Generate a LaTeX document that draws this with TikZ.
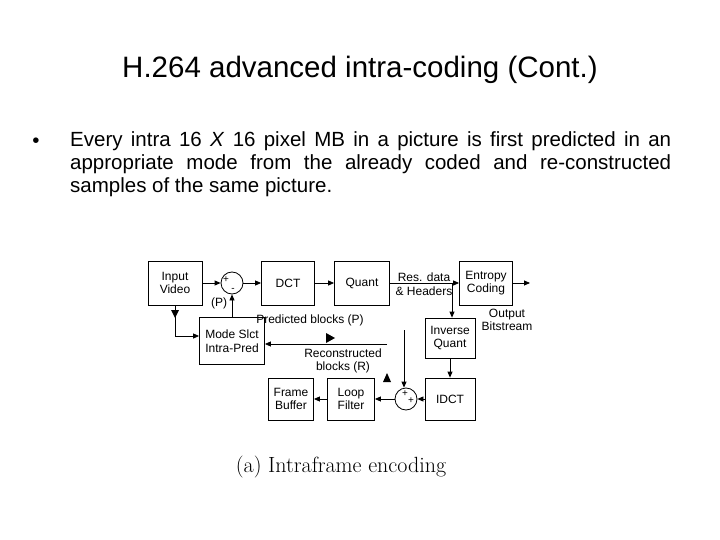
\documentclass[tikz,border=0pt]{standalone}
\usepackage{fontspec}
\setmainfont{Liberation Sans}
\newfontfamily\cmfont{Latin Modern Roman}
\usetikzlibrary{arrows.meta}
\begin{document}
\begin{tikzpicture}[x=1pt,y=-1pt,
  blk/.style={draw,line width=0.8pt,inner sep=0pt,font=\fontsize{12}{13.5}\selectfont,align=center},
  lbl/.style={font=\fontsize{12}{13.5}\selectfont,align=center,inner sep=0pt},
  sumc/.style={draw,circle,line width=0.8pt,minimum size=22pt,inner sep=0pt},
  ar/.style={line width=0.8pt,-{Triangle[length=6pt,width=5pt]}},
  ln/.style={line width=0.8pt}]
\useasboundingbox (0,0) rectangle (720,540);
\node[font=\fontsize{29.5}{34}\selectfont] (title) at (360,70) {H.264 advanced intra-coding (Cont.)};
\node[font=\fontsize{20.5}{23}\selectfont,anchor=north west,inner sep=0pt,text width=601pt,align=justify] (bul) at (70,131)
 {\hyphenpenalty=10000 Every intra 16 \textit{X} 16 pixel MB in a picture is first predicted in an\linebreak appropriate mode from the already coded and re-constructed\linebreak samples of the same picture.};
\node[font=\fontsize{20.5}{23}\selectfont,inner sep=0pt] (dot) at (36,143) {•};
\node[blk,minimum width=54pt,minimum height=44pt] (iv) at (175,283) {Input\\Video};
\node[sumc] (sub) at (232,283) {};
\node[lbl,font=\fontsize{10}{10}\selectfont] (subp) at (226,280) {+};
\node[lbl,font=\fontsize{10}{10}\selectfont] (subm) at (233,290) {-};
\node[blk,minimum width=53pt,minimum height=44pt] (dct) at (288,283) {DCT};
\node[blk,minimum width=55pt,minimum height=44pt] (q) at (362,283) {Quant};
\node[blk,minimum width=53pt,minimum height=44pt] (ec) at (486,283) {Entropy\\Coding};
\coordinate (out) at (530,283);
\node[lbl] (res) at (424,284) {Res. data\\\& Headers};
\node[lbl] (ob) at (507,320) {Output\\Bitstream};
\node[blk,minimum width=50pt,minimum height=40pt] (iq) at (450,338) {Inverse\\Quant};
\node[blk,minimum width=65pt,minimum height=47pt] (ms) at (232,341) {Mode Slct\\Intra-Pred};
\node[lbl] (pp) at (219,303) {(P)};
\node[lbl] (pb) at (310,320) {Predicted blocks (P)};
\node[lbl] (rb) at (343,361) {Reconstructed\\blocks (R)};
\node[blk,minimum width=50pt,minimum height=42pt] (idct) at (450,399) {IDCT};
\node[sumc] (add) at (406,399) {};
\node[lbl,font=\fontsize{10}{10}\selectfont] (a1) at (405,394) {+};
\node[lbl,font=\fontsize{10}{10}\selectfont] (a2) at (411,401) {+};
\node[blk,minimum width=47pt,minimum height=42pt] (lf) at (351,399) {Loop\\Filter};
\node[blk,minimum width=45pt,minimum height=42pt] (fb) at (291,399) {Frame\\Buffer};
\fill (326,333) -- (335,338) -- (326,343) -- cycle;
\fill (383,382) -- (387,373) -- (391,382) -- cycle;
\coordinate (rs) at (387,344);
\coordinate (vt) at (404,330);
\coordinate (bend) at (175,336);
\draw[ar] (iv) -- (sub);
\draw[ar] (sub) -- (dct);
\draw[ar] (dct) -- (q);
\draw[ar] (q) -- (ec);
\draw[ar] (ec) -- (out);
\draw[ar] (452,283) -- (iq.north -| 452,0);
\draw[ar] (iq) -- (idct);
\draw[ar] (idct) -- (add);
\draw[ar] (add) -- (lf);
\draw[ar] (lf) -- (fb);
\draw[ar] (ms) -- (sub);
\draw[ar] (vt) -- (add.north -| vt);
\draw[ar] (rs) -- (ms.east |- rs);
\draw[ln] (iv.south) -- (bend);
\draw[ar] (bend) -- (ms.west |- bend);
\fill (171,310) -- (175,318) -- (179,310) -- cycle;
\node[font=\cmfont\fontsize{22}{24}\selectfont] (cap) at (341,467) {(a) Intraframe encoding};
\end{tikzpicture}
\end{document}
